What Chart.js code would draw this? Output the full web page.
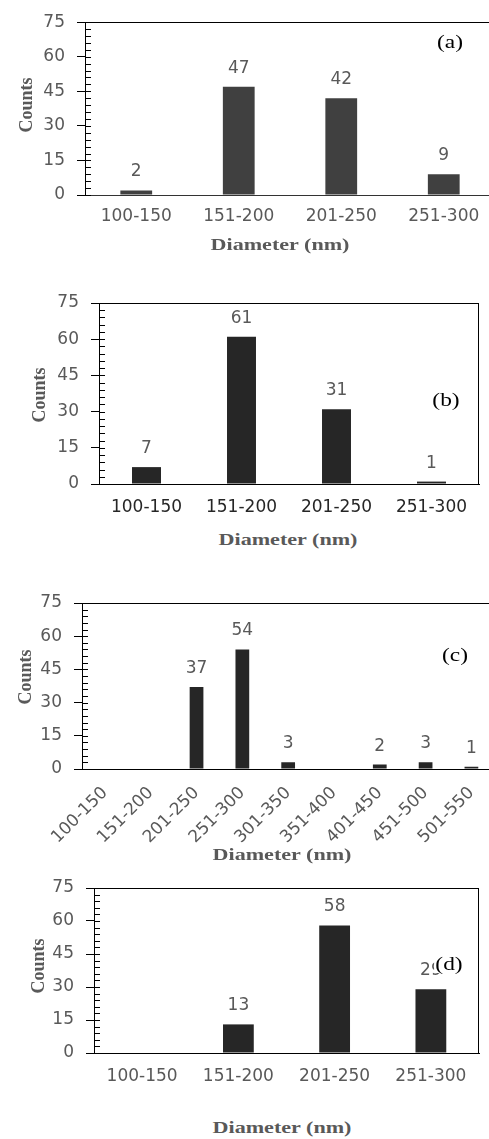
<!DOCTYPE html>
<html><head><meta charset="utf-8">
<script src="https://cdn.jsdelivr.net/npm/chart.js@4/dist/chart.umd.min.js"></script>
<style>
html,body{margin:0;padding:0;background:#fff;}
body{width:489px;height:1139px;overflow:hidden;position:relative}
.pnl{position:absolute;left:0;width:489px;overflow:hidden}
canvas{display:block}
.t{position:absolute;white-space:nowrap;line-height:1;font-family:'Liberation Serif','Times New Roman',serif}
.ytitle{font-weight:bold;font-size:18px;color:#595959;transform:translate(-50%,-50%) rotate(-90deg)}
.xtitle{font-weight:bold;font-size:17px;color:#595959;transform:translate(-50%,-50%) scaleX(1.3)}
.plabel{font-size:18px;color:#000;transform:translate(-50%,-50%) scaleX(1.3)}
</style></head><body>
<div class="pnl" style="top:0px;height:260px"><canvas id="ca" width="500" height="260"></canvas></div>
<div class="pnl" style="top:270px;height:255px"><canvas id="cb" width="489" height="255"></canvas></div>
<div class="pnl" style="top:570px;height:280px"><canvas id="cc" width="500" height="280"></canvas></div>
<div class="pnl" style="top:860px;height:240px"><canvas id="cd" width="489" height="240"></canvas></div>

<div class="t ytitle" style="left:26px;top:105px">Counts</div>
<div class="t xtitle" style="left:280px;top:244px">Diameter (nm)</div>
<div class="t plabel" style="left:450px;top:42px">(a)</div>

<div class="t ytitle" style="left:39px;top:395px">Counts</div>
<div class="t xtitle" style="left:288px;top:539px">Diameter (nm)</div>
<div class="t plabel" style="left:446px;top:400px">(b)</div>

<div class="t ytitle" style="left:25px;top:677px">Counts</div>
<div class="t xtitle" style="left:282px;top:854px">Diameter (nm)</div>
<div class="t plabel" style="left:455px;top:655px">(c)</div>

<div class="t ytitle" style="left:38px;top:966px">Counts</div>
<div class="t xtitle" style="left:282px;top:1127px">Diameter (nm)</div>
<div class="t plabel" style="left:449px;top:964px;background:#fff;padding:0 1px">(d)</div>

<script>
// ---- data ----
const categoriesAB = ['100-150','151-200','201-250','251-300'];
const countsA = [2, 47, 42, 9];
const countsB = [7, 61, 31, 1];
const categoriesC = ['100-150','151-200','201-250','251-300','301-350','351-400','401-450','451-500','501-550'];
const countsC = [null, null, 37, 54, 3, null, 2, 3, 1];
const categoriesD = ['100-150','151-200','201-250','251-300'];
const countsD = [null, 13, 58, 29];
const yTickValues = [0, 15, 30, 45, 60, 75];
const yMinorStep = 3;

// ---- rendering ----
const TICK_FONT = {family: "'DejaVu Sans', sans-serif", size: 17};

const framePlugin = {
  id: 'frame',
  afterDraw(chart, args, o) {
    const ctx = chart.ctx, a = chart.chartArea, ys = chart.scales.y;
    ctx.save();
    ctx.strokeStyle = '#000';
    ctx.lineWidth = 1;
    // minor ticks inside
    ctx.beginPath();
    for (let v = yTickValues[0]; v <= yTickValues[yTickValues.length-1]; v += yMinorStep) {
      const py = Math.round(ys.getPixelForValue(v)) + 0.5;
      ctx.moveTo(a.left, py); ctx.lineTo(a.left + 6, py);
    }
    ctx.stroke();
    // top frame line
    const topY = Math.round(a.top) + 0.5;
    ctx.beginPath();
    ctx.moveTo(a.left, topY);
    ctx.lineTo(o.box ? a.right : chart.width, topY);
    if (o.box) {
      const rx = Math.round(a.right) - 0.5;
      ctx.moveTo(rx, a.top); ctx.lineTo(rx, a.bottom);
    }
    ctx.stroke();
    // data labels
    const meta = chart.getDatasetMeta(0);
    const data = chart.data.datasets[0].data;
    ctx.fillStyle = o.labelColor || '#595959';
    ctx.font = "17px 'DejaVu Sans', sans-serif";
    ctx.textAlign = 'center';
    ctx.textBaseline = 'alphabetic';
    meta.data.forEach((el, i) => {
      if (data[i] === null || data[i] === undefined) return;
      ctx.fillText(String(data[i]), el.x, el.y - 14);
    });
    ctx.restore();
  }
};

function makePanel(id, labels, values, g) {
  const canvas = document.getElementById(id);
  const W = canvas.width, H = canvas.height;
  new Chart(canvas, {
    type: 'bar',
    data: {labels: labels, datasets: [{data: values, backgroundColor: g.barColor,
      barPercentage: g.barPct, categoryPercentage: 1, borderWidth: 0}]},
    options: {
      responsive: false, animation: false, devicePixelRatio: 1,
      layout: {padding: {left: 0, top: g.top, right: W - g.right, bottom: 0}},
      plugins: {legend: {display: false}, tooltip: {enabled: false},
        frame: {box: g.box, labelColor: g.labelColor}},
      scales: {
        x: {
          type: 'category', offset: true,
          grid: {display: false, drawTicks: false},
          border: {display: true, color: g.xAxisColor || '#000', width: 1},
          ticks: {color: g.xTickColor || '#595959', font: TICK_FONT, padding: g.xPad,
            autoSkip: false, maxRotation: g.rot || 0, minRotation: g.rot || 0},
          afterFit: s => { s.height = H - g.bottom; }
        },
        y: {
          min: yTickValues[0], max: yTickValues[yTickValues.length-1],
          afterBuildTicks: s => { s.ticks = yTickValues.map(v => ({value: v})); },
          grid: {display: true, drawOnChartArea: false, drawTicks: true, tickLength: 8, color: '#000'},
          border: {display: true, color: '#000', width: 1},
          ticks: {color: '#595959', font: TICK_FONT, padding: 12},
          afterFit: s => { s.width = g.left; }
        }
      }
    },
    plugins: [framePlugin]
  });
}

// geometry (canvas-local)
makePanel('ca', categoriesAB, countsA, {left: 85, top: 14, right: 495, bottom: 195,
  barColor: '#404040', barPct: 0.31, xPad: 11, box: false, xAxisColor: '#333'});
makePanel('cb', categoriesAB, countsB, {left: 99, top: 33, right: 479, bottom: 214,
  barColor: '#262626', barPct: 0.305, xPad: 13, box: true, xTickColor: '#262626'});
makePanel('cc', categoriesC, countsC, {left: 82, top: 33, right: 497, bottom: 199,
  barColor: '#262626', barPct: 0.3, xPad: 14, box: false, rot: 45});
makePanel('cd', categoriesD, countsD, {left: 94, top: 28, right: 479, bottom: 193,
  barColor: '#262626', barPct: 0.32, xPad: 13, box: true});
</script>
</body></html>
